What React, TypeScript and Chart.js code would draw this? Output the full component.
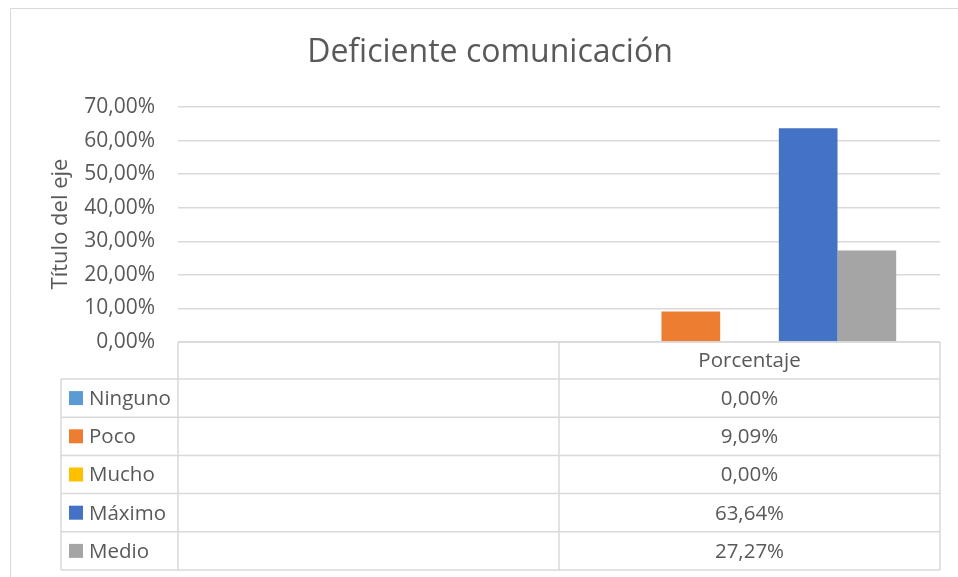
import React, { useEffect, useRef } from "react";
import { Chart, registerables } from "chart.js";

Chart.register(...registerables);

const categories = ["", "Porcentaje"];
const seriesNames = ["Ninguno", "Poco", "Mucho", "Máximo", "Medio"];
const seriesValues = [0.0, 9.09, 0.0, 63.64, 27.27];
const seriesColors = ["#5B9BD5", "#ED7D31", "#FFC000", "#4472C4", "#A5A5A5"];
const chartTitle = "Deficiente comunicación";
const axisTitle = "Título del eje";
const yMax = 70;
const yStep = 10;

const FONT = "'Open Sans', 'Noto Sans', sans-serif";
const TEXT = "#595959";
const LINE = "#d9d9d9";

const fmt = (v: number) => v.toFixed(2).replace(".", ",") + "%";

const tablePlugin = {
  id: "excelTable",
  afterDraw(chart: any) {
    const ctx = chart.ctx as CanvasRenderingContext2D;
    const { left, right, bottom } = chart.chartArea;
    const mid = (left + right) / 2;
    const tableLeft = 61;
    const headerBottom = bottom + 37;
    const rowH = 38.2;
    ctx.save();

    // outer border
    ctx.strokeStyle = LINE;
    ctx.lineWidth = 1;
    ctx.beginPath();
    ctx.moveTo(10.5, 600);
    ctx.lineTo(10.5, 8.5);
    ctx.lineTo(970, 8.5);
    ctx.stroke();

    // title
    ctx.fillStyle = TEXT;
    ctx.font = `32px ${FONT}`;
    ctx.textAlign = "center";
    ctx.textBaseline = "middle";
    ctx.fillText(chartTitle, 490, 53);

    // axis title
    ctx.save();
    ctx.translate(61, 224);
    ctx.rotate(-Math.PI / 2);
    ctx.font = `22px ${FONT}`;
    ctx.fillText(axisTitle, 0, 0);
    ctx.restore();

    // table lines
    ctx.strokeStyle = LINE;
    ctx.lineWidth = 1.5;
    const yEnd = headerBottom + rowH * seriesNames.length;
    ctx.beginPath();
    ctx.moveTo(left, bottom);
    ctx.lineTo(right, bottom);
    for (let i = 0; i <= seriesNames.length; i++) {
      const y = headerBottom + rowH * i;
      ctx.moveTo(tableLeft, y);
      ctx.lineTo(right, y);
    }
    ctx.moveTo(tableLeft, headerBottom);
    ctx.lineTo(tableLeft, yEnd);
    ctx.moveTo(left, bottom);
    ctx.lineTo(left, yEnd);
    ctx.moveTo(mid, bottom);
    ctx.lineTo(mid, yEnd);
    ctx.moveTo(right, bottom);
    ctx.lineTo(right, yEnd);
    ctx.stroke();

    // header labels
    ctx.fillStyle = TEXT;
    ctx.font = `20.5px ${FONT}`;
    ctx.textAlign = "center";
    ctx.textBaseline = "middle";
    const colCenters = [(left + mid) / 2, (mid + right) / 2];
    categories.forEach((c, i) => {
      ctx.fillText(c, colCenters[i], (bottom + headerBottom) / 2 + 1);
    });

    // rows
    seriesNames.forEach((name, i) => {
      const cy = headerBottom + rowH * i + rowH / 2;
      ctx.fillStyle = seriesColors[i];
      ctx.fillRect(69, cy - 7, 14, 14);
      ctx.fillStyle = TEXT;
      ctx.textAlign = "left";
      ctx.fillText(name, 89, cy + 1);
      ctx.textAlign = "center";
      ctx.fillText(fmt(seriesValues[i]), colCenters[1], cy + 1);
    });
    ctx.restore();
  },
};

export default function App() {
  const ref = useRef<HTMLCanvasElement>(null);
  useEffect(() => {
    if (!ref.current) return;
    const chart = new Chart(ref.current, {
      type: "bar",
      data: {
        labels: categories,
        datasets: seriesNames.map((n, i) => ({
          label: n,
          data: categories.map((_, ci) => (ci === 1 ? seriesValues[i] : null)),
          backgroundColor: seriesColors[i],
          borderWidth: 0,
          barPercentage: 1,
          categoryPercentage: 0.77,
        })),
      },
      options: {
        responsive: false,
        animation: false,
        layout: { padding: { left: 0, top: 107, right: 18, bottom: 235 } },
        plugins: {
          legend: { display: false },
          title: { display: false },
          tooltip: { enabled: false },
        },
        scales: {
          x: { display: false },
          y: {
            min: 0,
            max: yMax,
            afterFit: (s: any) => {
              s.width = 178;
            },
            ticks: {
              stepSize: yStep,
              padding: 23,
              color: TEXT,
              font: { family: FONT, size: 21 },
              callback: (v: any) => fmt(Number(v)),
            },
            grid: { color: LINE, lineWidth: 1.5, drawTicks: false },
            border: { display: false },
          },
        },
      },
      plugins: [tablePlugin],
    });
    return () => chart.destroy();
  }, []);
  return (
    <div style={{ position: "absolute", left: 0, top: 0, width: 958, height: 577, background: "#fff" }}>
      <canvas ref={ref} width={958} height={577} style={{ display: "block" }} />
    </div>
  );
}
